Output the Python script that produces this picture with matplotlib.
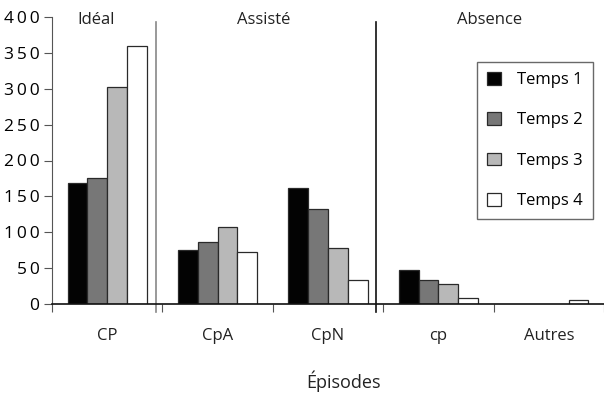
import matplotlib
matplotlib.use("Agg")
import matplotlib.pyplot as plt
import numpy as np

plt.rcParams['font.family'] = ['Open Sans', 'DejaVu Sans']

categories = ["CP", "CpA", "CpN", "cp", "Autres"]
series_names = ["Temps 1", "Temps 2", "Temps 3", "Temps 4"]
temps1 = [168, 75, 162, 47, 0]
temps2 = [175, 86, 133, 33, 0]
temps3 = [302, 108, 78, 28, 0]
temps4 = [360, 72, 33, 8, 5]
series = [temps1, temps2, temps3, temps4]
colors = ["#030303", "#777777", "#b8b8b8", "#ffffff"]
yticks = [0, 50, 100, 150, 200, 250, 300, 350, 400]
groups = ["Idéal", "Assisté", "Absence"]
group_x = [-0.096, 1.42, 3.46]
separators = [0.442, 2.433]
sep_colors = ["#888888", "#111111"]

fig = plt.figure(figsize=(6.04, 3.93), dpi=100)
ax = fig.add_axes([52/604, 1-304/393, 552/604, 287/393])

x = np.arange(len(categories))
w = 0.179
for i, (vals, c) in enumerate(zip(series, colors)):
    vals = np.array(vals, dtype=float)
    lws = [0.9 if v > 0 else 0 for v in vals]
    ax.bar(x + (i - 1.5) * w, vals, width=w, color=c, edgecolor="#2a2a2a",
           linewidth=lws, label=series_names[i], zorder=3)

ax.set_xlim(-0.5, 4.45)
ax.set_ylim(0, 400)

for s in ["top", "right"]:
    ax.spines[s].set_visible(False)
ax.spines["left"].set_color("#555555")
ax.spines["bottom"].set_color("#111111")
ax.spines["bottom"].set_linewidth(1.2)
ax.spines["bottom"].set_zorder(5)

ax.set_yticks(yticks)
ax.set_yticklabels(["\u2009".join(str(v)) for v in yticks], fontsize=12.5)
ax.tick_params(axis="y", direction="out", length=6, color="#555555", pad=3)

ax.set_xticks(np.arange(len(categories) + 1) - 0.5)
ax.set_xticklabels([])
ax.tick_params(axis="x", which="major", direction="out", length=6, color="#555555")
ax.set_xticks(x, minor=True)
ax.set_xticklabels(categories, minor=True, fontsize=12, color="#222222")
ax.tick_params(axis="x", which="minor", length=0, pad=17)

ax.set_xlabel("Épisodes", fontsize=13, color="#222222")
ax.xaxis.set_label_coords((344 - 52) / 552, (304 - 381) / 287)
ax.xaxis.label.set_va("center")

for sx, sc in zip(separators, sep_colors):
    ax.plot([sx, sx], [-11, 393], color=sc, lw=1.2, clip_on=False, zorder=4)

for g, gx in zip(groups, group_x):
    ax.text(gx, 396, g, ha="center", va="center", fontsize=12, color="#222222")

leg = ax.legend(loc="upper right", bbox_to_anchor=(593/604, 1-62/393),
                bbox_transform=fig.transFigure, fontsize=12, frameon=True,
                fancybox=False, handlelength=0.8, handleheight=0.8,
                labelspacing=1.45, handletextpad=1.0, borderpad=0.6,
                borderaxespad=0)
leg.get_frame().set_edgecolor("#444444")
leg.get_frame().set_linewidth(1.0)

fig.savefig("out.png", dpi=100)
